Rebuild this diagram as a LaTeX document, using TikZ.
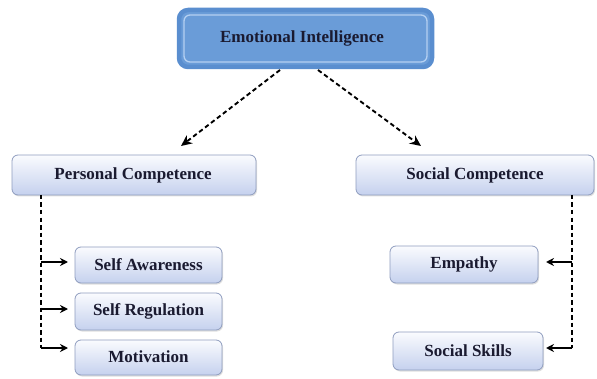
\documentclass[tikz,border=0pt]{standalone}
\usepackage{fontspec}
\setmainfont{Liberation Serif}
\usetikzlibrary{arrows.meta,shadows}
\definecolor{topfill}{HTML}{6A9CD8}
\definecolor{topedge}{HTML}{5A8ECF}
\definecolor{topinner}{HTML}{B4D0F2}
\definecolor{boxtop}{HTML}{FAFBFE}
\definecolor{boxbot}{HTML}{C5D1EE}
\definecolor{boxedge}{HTML}{8F9DBF}
\definecolor{txt}{HTML}{1A1A30}
\tikzset{
  x=1pt,y=1pt,
  lbl/.style={font=\fontsize{17}{19}\selectfont\bfseries, text=txt},
  subbox/.style={draw=boxedge, line width=0.8pt, rounded corners=6pt,
    top color=boxtop, bottom color=boxbot,
    drop shadow={shadow xshift=1pt,shadow yshift=-1.5pt,opacity=0.25}},
  dline/.style={dashed, dash pattern=on 4.5pt off 3pt, line width=1.9pt, black},
  arr/.style={-{Stealth[length=8pt,width=8pt]}, line width=1.6pt, black},
  darr/.style={dline, -{Stealth[length=11pt,width=10pt]}}
}
\begin{document}
\begin{tikzpicture}
\useasboundingbox (0,0) rectangle (597,378);
% top box
\draw[topedge, line width=4.5pt, fill=topfill, rounded corners=9pt] (179,368) rectangle (432,311);
\draw[topinner, line width=1.3pt, rounded corners=6pt] (184,363) rectangle (427,316);
\node[lbl] (ei) at (302,339.5) {Emotional Intelligence};
\coordinate (eil) at (280,308);
\coordinate (eir) at (318,308);
% level 2
\path[subbox] (12,223) rectangle (256,183);
\node[lbl] (pc) at (133,203) {Personal Competence};
\path[subbox] (356,223) rectangle (594,183);
\node[lbl] (sc) at (475,203) {Social Competence};
\coordinate (pct) at (181,232);
\coordinate (sct) at (421,232);
\draw[darr] (eil) -- (pct);
\draw[darr] (eir) -- (sct);
% level 3 left
\path[subbox] (75,131) rectangle (222,95);
\node[lbl] (sa) at (148.5,113) {Self Awareness};
\path[subbox] (75,85) rectangle (222,48);
\node[lbl] (sr) at (148.5,66.5) {Self Regulation};
\path[subbox] (75,38) rectangle (222,3);
\node[lbl] (mo) at (148.5,21) {Motivation};
\coordinate (pcl) at (41,183);
\coordinate (pcb) at (41,30);
\draw[dline] (pcl) -- (pcb);
\coordinate (a1) at (41,116);
\coordinate (a2) at (41,69);
\draw[arr] (a1) -- (68,116);
\draw[arr] (a2) -- (68,69);
\draw[arr] (pcb) -- (68,30);
% level 3 right
\path[subbox] (390,132) rectangle (538,95);
\node[lbl] (em) at (464,114) {Empathy};
\path[subbox] (393,46) rectangle (543,8);
\node[lbl] (ss) at (468,27) {Social Skills};
\coordinate (scr) at (572,183);
\coordinate (scb) at (572,30);
\draw[dline] (scr) -- (scb);
\coordinate (b1) at (572,116);
\draw[arr] (b1) -- (546,116);
\draw[arr] (scb) -- (546,30);
\end{tikzpicture}
\end{document}
